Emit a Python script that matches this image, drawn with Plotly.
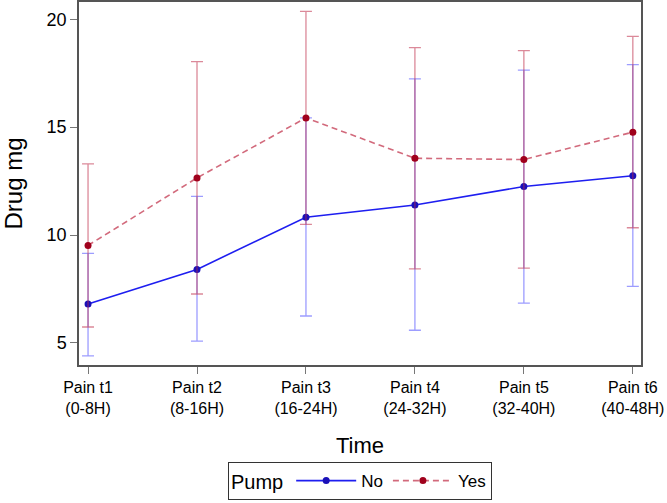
import plotly.graph_objects as go

categories = ["Pain t1<br>(0-8H)", "Pain t2<br>(8-16H)", "Pain t3<br>(16-24H)",
              "Pain t4<br>(24-32H)", "Pain t5<br>(32-40H)", "Pain t6<br>(40-48H)"]

no_mean = [6.81, 8.41, 10.83, 11.39, 12.25, 12.75]
no_upper = [9.15, 11.79, 15.43, 17.24, 17.64, 17.90]
no_lower = [4.40, 5.09, 6.25, 5.59, 6.85, 7.62]

yes_mean = [9.52, 12.65, 15.43, 13.56, 13.50, 14.77]
yes_upper = [13.30, 18.04, 20.37, 18.69, 18.55, 19.21]
yes_lower = [5.74, 7.27, 10.50, 8.43, 8.47, 10.34]

xpos = list(range(len(categories)))

fig = go.Figure()

def add_series(name, mean, upper, lower, line_color, marker_color, err_color, dash):
    fig.add_trace(go.Scatter(
        x=xpos, y=mean, name=name, mode="lines+markers",
        line=dict(color=line_color, width=1.6, dash=dash),
        marker=dict(color=marker_color, size=7),
        error_y=dict(type="data", symmetric=False,
                     array=[u - m for u, m in zip(upper, mean)],
                     arrayminus=[m - l for m, l in zip(mean, lower)],
                     color=err_color, thickness=1.3, width=6),
    ))

add_series("No", no_mean, no_upper, no_lower, "#1E1EF0", "#1A10B8", "rgba(60,60,255,0.5)", "solid")
add_series("Yes", yes_mean, yes_upper, yes_lower, "rgba(205,90,110,0.9)", "#A0001C", "rgba(190,40,70,0.55)", "6px,4px")

fig.update_layout(
    width=667, height=503,
    margin=dict(l=79, r=26, t=2, b=138, autoexpand=False),
    paper_bgcolor="white", plot_bgcolor="white",
    font=dict(family="Liberation Sans, Arial, sans-serif", color="black"),
    showlegend=True,
    legend=dict(
        orientation="h", x=0.265, y=-0.372, xanchor="left", yanchor="bottom",
        bordercolor="#333", borderwidth=1,
        title=dict(text="Pump", font=dict(size=20)),
        font=dict(size=17), itemwidth=60,
    ),
)

fig.update_xaxes(
    range=[-0.083, 5.075], tickmode="array", tickvals=xpos, ticktext=categories,
    tickfont=dict(size=16), ticks="outside", ticklen=7, tickcolor="#777",
    showline=True, linecolor="#555", linewidth=1.5, mirror=True, showgrid=False,
    zeroline=False, automargin=False,
    title=dict(text="Time", font=dict(size=22), standoff=22),
)
fig.update_yaxes(
    range=[3.98, 20.8], tickvals=[5, 10, 15, 20],
    tickfont=dict(size=18), ticks="outside", ticklen=7, tickcolor="#777",
    showline=True, linecolor="#555", linewidth=1.5, mirror=True, showgrid=False,
    zeroline=False, automargin=False,
    title=dict(text="Drug mg", font=dict(size=24), standoff=18),
)

fig.write_html("out.html", config={"displayModeBar": False},
               post_script="document.body.style.margin='0';")
